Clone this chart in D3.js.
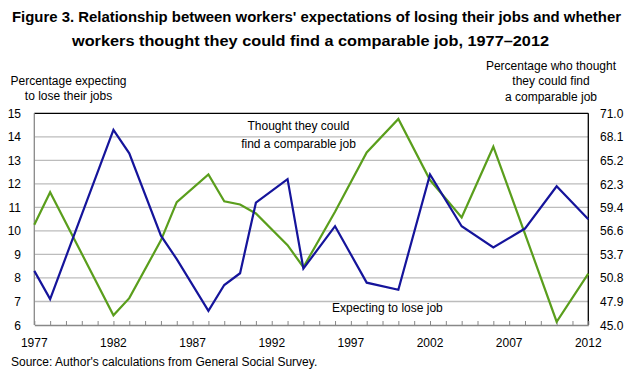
<!DOCTYPE html>
<html>
<head>
<meta charset="utf-8">
<script src="https://cdn.jsdelivr.net/npm/d3@7"></script>
<style>
  body { margin: 0; background: #fff; }
  text { font-family: "Liberation Sans", Arial, sans-serif; fill: #000; }
  .title { font-weight: bold; font-size: 14px; }
  .lbl { font-size: 12px; }
</style>
</head>
<body>
<div id="chart"></div>
<script>
// GSS survey years
var years = [1977, 1978, 1982, 1983, 1985, 1986, 1988, 1989, 1990, 1991, 1993,
             1994, 1996, 1998, 2000, 2002, 2004, 2006, 2008, 2010, 2012];
// Percentage expecting to lose their jobs (left axis)
var expectLose = [8.3, 7.1, 14.3, 13.3, 9.8, 8.8, 6.6, 7.7, 8.2, 11.2, 12.2,
                  8.4, 10.2, 7.8, 7.5, 12.4, 10.2, 9.3, 10.1, 11.9, 10.5];
// Percentage who thought they could find a comparable job (right axis)
var findJob = [57.3, 61.3, 46.2, 48.3, 55.4, 60.1, 63.5, 60.2, 59.8, 58.7, 54.8,
               52.1, 58.9, 66.2, 70.3, 62.8, 58.2, 66.9, 56.2, 45.4, 51.3];

var leftTicks = [6, 7, 8, 9, 10, 11, 12, 13, 14, 15];
var rightTicks = ["45.0", "47.9", "50.8", "53.7", "56.6", "59.4", "62.3", "65.2", "68.1", "71.0"];
var xLabels = [1977, 1982, 1987, 1992, 1997, 2002, 2007, 2012];

var width = 630, height = 375;
var plotL = 34.3, plotR = 588.3, plotT = 113.3, plotB = 325;

var svg = d3.select("#chart").append("svg")
    .attr("width", width)
    .attr("height", height);

var x = d3.scaleLinear().domain([1977, 2012]).range([plotL, plotR]);
var yL = d3.scaleLinear().domain([6, 15]).range([plotB, plotT]);
var yR = d3.scaleLinear().domain([45, 71]).range([plotB, plotT]);

// gridlines
svg.append("g").selectAll("line")
    .data(leftTicks.slice(1, -1))
    .enter().append("line")
    .attr("x1", plotL).attr("x2", plotR)
    .attr("y1", function(d) { return yL(d); })
    .attr("y2", function(d) { return yL(d); })
    .attr("stroke", "#bcbcbc")
    .attr("stroke-width", 1.3);

// frame: top and right black, left and bottom gray
svg.append("line").attr("x1", plotL).attr("x2", plotR).attr("y1", plotT).attr("y2", plotT)
    .attr("stroke", "#000").attr("stroke-width", 1.3);
svg.append("line").attr("x1", plotR).attr("x2", plotR).attr("y1", plotT).attr("y2", plotB)
    .attr("stroke", "#000").attr("stroke-width", 1.3);
svg.append("line").attr("x1", plotL).attr("x2", plotL).attr("y1", plotT).attr("y2", plotB)
    .attr("stroke", "#888").attr("stroke-width", 1.3);

// bottom axis, yearly ticks pointing inward
var xAxis = svg.append("g")
    .attr("transform", "translate(0," + plotB + ")")
    .call(d3.axisBottom(x).tickValues(d3.range(1977, 2013)).tickSize(-4).tickSizeOuter(0).tickFormat(""));
xAxis.select(".domain").attr("stroke", "#888").attr("stroke-width", 1.3);
xAxis.selectAll(".tick line").attr("stroke", "#888");

svg.append("g").selectAll("text")
    .data(xLabels)
    .enter().append("text")
    .attr("class", "lbl")
    .attr("x", function(d) { return x(d); })
    .attr("y", 347)
    .attr("text-anchor", "middle")
    .text(function(d) { return d; });

// left tick labels
svg.append("g").selectAll("text")
    .data(leftTicks)
    .enter().append("text")
    .attr("class", "lbl")
    .attr("x", 21)
    .attr("y", function(d) { return yL(d) + 4.5; })
    .attr("text-anchor", "end")
    .text(function(d) { return d; });

// right tick labels
svg.append("g").selectAll("text")
    .data(rightTicks)
    .enter().append("text")
    .attr("class", "lbl")
    .attr("x", 600)
    .attr("y", function(d) { return yR(+d) + 4.5; })
    .text(function(d) { return d; });

// lines
var lineL = d3.line()
    .x(function(d, i) { return x(years[i]); })
    .y(function(d) { return yL(d); });
var lineR = d3.line()
    .x(function(d, i) { return x(years[i]); })
    .y(function(d) { return yR(d); });

svg.append("path").datum(findJob)
    .attr("d", lineR)
    .attr("fill", "none")
    .attr("stroke", "#5a9e1c")
    .attr("stroke-width", 2.2);

svg.append("path").datum(expectLose)
    .attr("d", lineL)
    .attr("fill", "none")
    .attr("stroke", "#15149b")
    .attr("stroke-width", 2.2);

// title
svg.append("text").attr("class", "title")
    .attr("x", 12).attr("y", 22)
    .attr("textLength", 609).attr("lengthAdjust", "spacingAndGlyphs")
    .text("Figure 3. Relationship between workers' expectations of losing their jobs and whether");
svg.append("text").attr("class", "title")
    .attr("x", 72).attr("y", 46)
    .attr("textLength", 477).attr("lengthAdjust", "spacingAndGlyphs")
    .text("workers thought they could find a comparable job, 1977\u20132012");

// multi-line centred labels
function lines(arr, cx, y0, dy) {
    arr.forEach(function(t, i) {
        svg.append("text").attr("class", "lbl")
            .attr("x", cx).attr("y", y0 + i * dy)
            .attr("text-anchor", "middle")
            .text(t);
    });
}
lines(["Percentage expecting", "to lose their jobs"], 68.5, 85, 14.5);
lines(["Percentage who thought", "they could find", "a comparable  job"], 551, 70, 15.3);

// series labels
lines(["Thought they could", "find a comparable job"], 298.5, 130, 17.5);
svg.append("text").attr("class", "lbl")
    .attr("x", 332).attr("y", 312)
    .text("Expecting to lose job");

// source
svg.append("text").attr("class", "lbl")
    .attr("x", 11).attr("y", 366)
    .text("Source: Author's calculations from General Social Survey.");
</script>
</body>
</html>
